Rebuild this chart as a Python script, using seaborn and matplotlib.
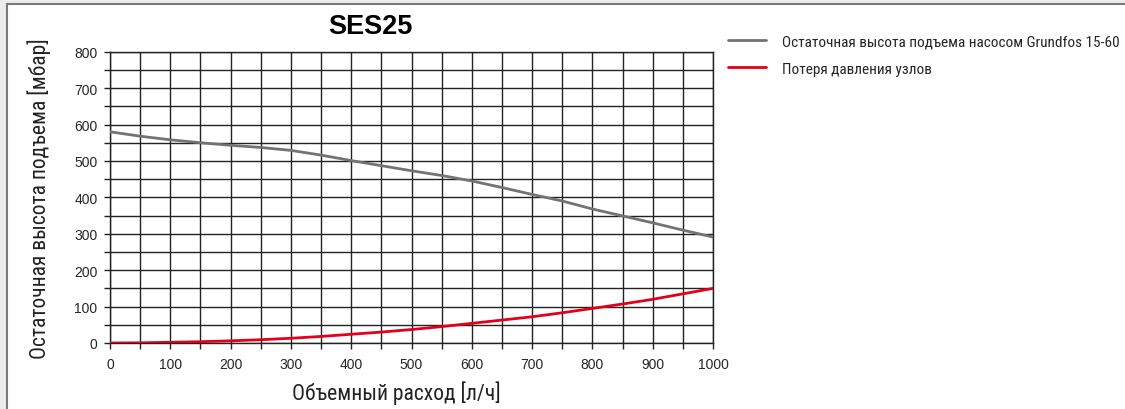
import matplotlib
matplotlib.use("Agg")
import matplotlib.pyplot as plt
import seaborn as sns
import pandas as pd
from matplotlib.patches import Rectangle
from matplotlib.ticker import MultipleLocator
from matplotlib.lines import Line2D
from matplotlib import font_manager as fm

flow = [0, 50, 100, 150, 200, 250, 300, 350, 400, 450, 500, 550, 600, 650, 700, 750, 800, 850, 900, 950, 1000]
pump_head = [580, 568, 558, 550, 543, 537, 529, 516, 501, 487, 473, 460, 445, 427, 408, 390, 368, 349, 330, 310, 291]
loss = [0, 0.5, 2, 3.5, 6, 9, 13, 18, 24, 30, 37, 45, 54, 63, 72, 83, 95, 107, 120, 135, 150]

title = "SES25"
xlabel = "Объемный расход [л/ч]"
ylabel = "Остаточная высота подъема [мбар]"
series_names = ["Остаточная высота подъема насосом Grundfos 15-60", "Потеря давления узлов"]
colors = ["#737373", "#e2001a"]

sns.set_theme(style="white")
arial = ["Liberation Sans", "DejaVu Sans"]
plt.rcParams["font.family"] = arial


def pick_condensed():
    for fam in ["Roboto Condensed", "Liberation Sans Narrow", "Open Sans Condensed",
                "DejaVu Sans Condensed", "Noto Sans Condensed"]:
        try:
            fm.findfont(fm.FontProperties(family=fam), fallback_to_default=False)
            return dict(family=[fam, "DejaVu Sans"])
        except Exception:
            pass
    for fam in ["Roboto", "Open Sans", "Noto Sans", "DejaVu Sans"]:
        f = fm.findfont(fm.FontProperties(family=fam, stretch="condensed"))
        if "ondensed" in f or "arrow" in f:
            return dict(family=[fam], stretch="condensed")
    return dict(family=["Roboto", "DejaVu Sans"])


cond = pick_condensed()

W, H = 1125, 410
fig = plt.figure(figsize=(W / 100, H / 100), dpi=100)
fig.patch.set_facecolor("#ececec")
fig.patches.append(Rectangle((6.5 / W, -0.01), 1.1, 1.01 - 4.5 / H, transform=fig.transFigure,
                             facecolor="white", edgecolor="#7a7a7a", linewidth=1.5, zorder=-10))

ax = fig.add_axes([110 / W, 1 - 344 / H, (713 - 110) / W, (344 - 52.7) / H])
ax.set_facecolor("white")

df = pd.DataFrame({"flow": flow * 2, "value": pump_head + loss,
                   "series": [series_names[0]] * len(flow) + [series_names[1]] * len(flow)})
sns.lineplot(data=df, x="flow", y="value", hue="series", palette=colors, linewidth=2,
             ax=ax, legend=False, zorder=3)

ax.set_xlim(0, 1000)
ax.set_ylim(0, 800)
ax.xaxis.set_major_locator(MultipleLocator(100))
ax.xaxis.set_minor_locator(MultipleLocator(50))
ax.yaxis.set_major_locator(MultipleLocator(100))
ax.yaxis.set_minor_locator(MultipleLocator(50))
ax.grid(True, which="both", color="#222222", linewidth=1.0)
ax.tick_params(which="both", direction="out", length=4, width=1, color="#222222",
               bottom=True, left=True, labelsize=10)
ax.tick_params(axis="x", pad=6)
ax.tick_params(axis="y", pad=5)
for s in ax.spines.values():
    s.set_color("#222222")
    s.set_linewidth(1.0)

ax.set_xlabel(xlabel, fontsize=15.5, color="#222222", **cond)
ax.set_ylabel(ylabel, fontsize=15.5, color="#222222", **cond)
ax.xaxis.set_label_coords((396.5 - 110) / 603, -(393 - 344) / 291.3)
ax.yaxis.set_label_coords(-(110 - 39) / 603, 0.5)
ax.xaxis.label.set_va("center")
ax.yaxis.label.set_va("center")

fig.text(370 / W, 1 - 27 / H, title, ha="center", va="center", fontsize=19.5,
         fontweight="bold", family=arial, color="black")

handles = [Line2D([], [], color=c, linewidth=2) for c in colors]
prop = fm.FontProperties(size=11, **cond)
leg = fig.legend(handles, series_names, loc="upper left", bbox_to_anchor=(714 / W, 1 - 22 / H),
                 frameon=False, handlelength=2.5, handletextpad=1.05, labelspacing=0.85,
                 prop=prop)

fig.savefig("out.png", dpi=100, facecolor=fig.get_facecolor())
